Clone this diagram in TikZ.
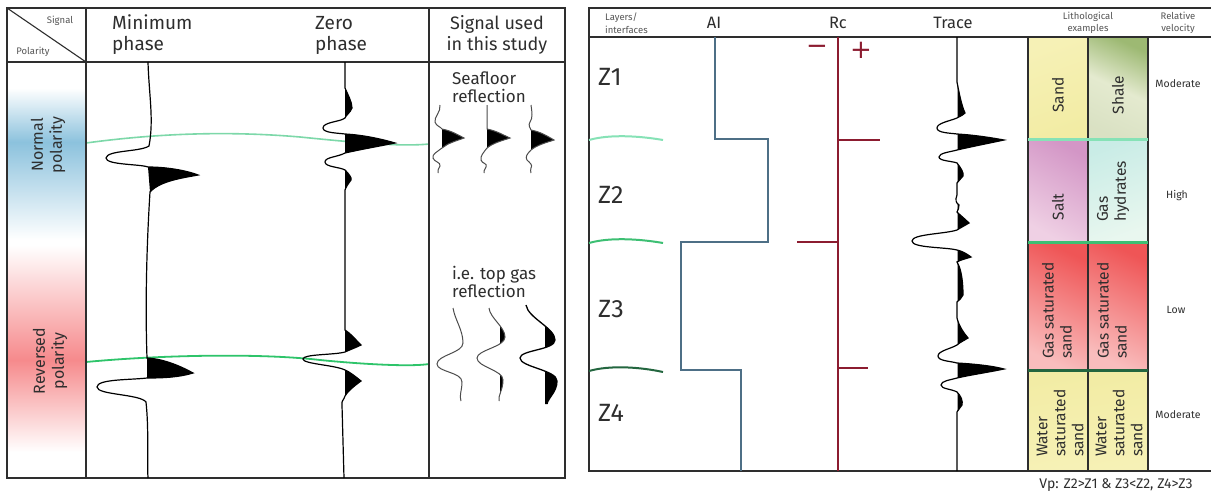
\documentclass[tikz,border=0pt]{standalone}
\usepackage{fontspec}
\setmainfont{Fira Sans}
\newfontfamily\signfont{DejaVu Sans}
\definecolor{ink}{HTML}{2E2E2E}
\definecolor{soft}{HTML}{555555}
\definecolor{polblue}{RGB}{140,194,221}
\definecolor{polred}{RGB}{246,138,140}
\definecolor{seagreen}{HTML}{7DD8A9}
\definecolor{gasgreen}{HTML}{2EC46A}
\definecolor{ifaceA}{HTML}{86E2B6}
\definecolor{ifaceB}{HTML}{3DBF73}
\definecolor{ifaceC}{HTML}{23663F}
\definecolor{aiblue}{HTML}{4D6F86}
\definecolor{rcred}{HTML}{8C1C30}
\definecolor{sandY}{HTML}{F6F1B6}
\definecolor{sandY2}{HTML}{F2ECA4}
\definecolor{shaleG}{HTML}{9DB973}
\definecolor{shaleL}{HTML}{E4EACF}
\definecolor{saltP}{HTML}{D396C6}
\definecolor{saltL}{HTML}{EFD0E4}
\definecolor{hydC}{HTML}{C9ECE6}
\definecolor{hydL}{HTML}{E9F7EF}
\definecolor{gasR}{HTML}{EF5556}
\definecolor{gasL}{HTML}{F9BDBD}

% right-panel trace, used for both the line and the variable-area fill
\newcommand{\tracecurve}{(957,37) -- (957,82)
  .. controls (959,92) and (961,104) .. (965,113) .. controls (962,116) and (958,117) .. (957,118)
  .. controls (950,121) and (937,123) .. (937,128) .. controls (937,133) and (950,133) .. (957,134)
  .. controls (975,135) and (993,138) .. (1004,140) .. controls (990,143) and (970,147) .. (957,150)
  .. controls (950,152) and (939,153) .. (939,157) .. controls (939,161) and (952,161) .. (957,163)
  .. controls (961,168) and (964,173) .. (963,176) .. controls (961,179) and (958,181) .. (957,183)
  -- (957,195) .. controls (955,200) and (956,203) .. (959,205) .. controls (960,208) and (957,210) .. (957,212)
  .. controls (960,215) and (965,219) .. (969,223) .. controls (964,226) and (960,228) .. (957,230)
  .. controls (945,234) and (912,234) .. (912,241) .. controls (912,248) and (945,247) .. (957,250)
  .. controls (962,251) and (967,254) .. (971,257) .. controls (965,259) and (960,260) .. (957,262)
  .. controls (962,270) and (963,285) .. (963,295) .. controls (962,298) and (959,300) .. (957,302)
  -- (957,318) .. controls (959,326) and (963,332) .. (968,338) .. controls (963,341) and (959,343) .. (957,345)
  .. controls (950,349) and (938,351) .. (938,356) .. controls (938,361) and (950,361) .. (957,363)
  .. controls (975,364) and (993,366) .. (1004,369) .. controls (990,372) and (970,375) .. (957,378)
  .. controls (950,380) and (941,381) .. (941,385) .. controls (941,389) and (952,389) .. (957,392)
  .. controls (961,396) and (963,401) .. (962,405) .. controls (960,408) and (958,410) .. (957,412)
  -- (957,471)}

% small "top gas" wavelets
\newcommand{\gasA}{(453,308) .. controls (455,320) and (463,330) .. (463,343) .. controls (463,353) and (437,355) .. (437,364) .. controls (437,372) and (462,372) .. (462,382) .. controls (462,390) and (459,396) .. (461,401)}
\newcommand{\gasB}{(489,308) .. controls (490,318) and (505,327) .. (505,337) .. controls (505,347) and (477,350) .. (477,358) .. controls (477,367) and (503,370) .. (503,380) .. controls (503,390) and (498,395) .. (499,401)}
\newcommand{\gasC}{(526,305) .. controls (528,318) and (555,328) .. (555,340) .. controls (555,350) and (520,350) .. (520,358) .. controls (520,367) and (557,370) .. (557,381) .. controls (557,392) and (548,398) .. (547,404)}

\begin{document}
\begin{tikzpicture}[x=1pt,y=-1pt,
  frame/.style={draw=ink, line width=1.1pt},
  trc/.style={draw=black, line width=1.2pt},
  wig/.style={draw=black!70, line width=1pt},
  txt/.style={text=ink, inner sep=0pt},
  hdr/.style={txt, font=\fontsize{19}{21}\selectfont, align=left},
  tiny/.style={text=soft, inner sep=0pt, font=\fontsize{9.5}{12.5}\selectfont, align=center},
  pol/.style={txt, rotate=90, align=center, font=\fontsize{16}{19}\selectfont},
  sig/.style={txt, align=left, anchor=west, font=\fontsize{17}{18}\selectfont},
  colhdr/.style={txt, font=\fontsize{16.5}{18}\selectfont},
  zone/.style={txt, anchor=west, font=\fontsize{25}{28}\selectfont},
  litho/.style={txt, rotate=90, align=left, font=\fontsize{15.5}{18}\selectfont},
  vel/.style={txt, font=\fontsize{10.5}{13}\selectfont},
  sign/.style={text=rcred, inner sep=0pt, font=\signfont\fontsize{26}{26}\selectfont},
  interface/.style={line width=2pt},
  sep/.style={line width=3pt}
]
\useasboundingbox (0,0) rectangle (1211,493);
\fill[white] (0,0) rectangle (1211,493);

%% ---------------- left panel: polarity vs phase ----------------
% polarity colour bands
\shade[top color=white, bottom color=polblue] (7,88) rectangle (86,142);
\shade[top color=polblue, bottom color=white] (7,142) rectangle (86,240);
\shade[top color=white, bottom color=polred] (7,245) rectangle (86,360);
\shade[top color=polred, bottom color=white] (7,360) rectangle (86,452);

% reflections
\draw[seagreen, line width=1.6pt] (86,143) .. controls (160,133) and (230,131) .. (300,137) .. controls (350,142) and (400,147) .. (429,144);
\draw[gasgreen, line width=1.8pt] (86,362) .. controls (160,355) and (260,353) .. (320,360) .. controls (360,364) and (410,367) .. (429,364);

% table frame
\draw[frame] (7,8) rectangle (565,478);
\draw[frame] (7,62) -- (565,62);
\draw[frame] (86,8) -- (86,478);
\draw[frame] (429,8) -- (429,478);
\draw[frame] (7,8) -- (86,62);

\node[tiny] (lblSignal) at (60,21) {Signal};
\node[tiny] (lblPolarity) at (33,52) {Polarity};
\node[hdr, anchor=west] (hMin) at (112,35) {Minimum\\phase};
\node[hdr, anchor=west] (hZero) at (315,35) {Zero\\phase};
\node[hdr, align=center, font=\fontsize{18}{21}\selectfont] (hUsed) at (497,35) {Signal used\\in this study};

\node[pol] (pNormal) at (48,145) {Normal\\polarity};
\node[pol] (pReversed) at (50,361) {Reversed\\polarity};

% minimum-phase trace
\fill (148,167) .. controls (165,167) and (185,170) .. (198,175) .. controls (182,178) and (160,181) .. (150,192) -- cycle;
\fill (147,358) .. controls (165,359) and (182,367) .. (193,373) .. controls (180,377) and (165,378) .. (147,378) -- cycle;
\draw[trc] (148,62) .. controls (149,95) and (154,120) .. (149,146)
  .. controls (140,152) and (107,150) .. (106,158)
  .. controls (106,165) and (140,164) .. (148,167)
  .. controls (165,167) and (185,170) .. (198,175) .. controls (182,178) and (160,181) .. (150,192)
  .. controls (147,240) and (145,300) .. (147,358)
  .. controls (165,359) and (182,367) .. (193,373) .. controls (180,377) and (165,378) .. (147,378)
  .. controls (130,380) and (97,379) .. (97,387) .. controls (97,395) and (140,394) .. (146,402)
  .. controls (149,430) and (147,460) .. (148,478);

% zero-phase trace
\fill (345,88) .. controls (348,95) and (352,102) .. (352,108) .. controls (350,113) and (346,115) .. (345,118) -- cycle;
\fill (345,134) .. controls (365,135) and (385,140) .. (395,143) .. controls (380,146) and (358,150) .. (345,153) -- cycle;
\fill (345,170) .. controls (349,174) and (352,178) .. (351,180) .. controls (348,184) and (346,187) .. (345,190) -- cycle;
\fill (345,330) .. controls (350,333) and (356,340) .. (361,345) .. controls (355,348) and (349,350) .. (345,352) -- cycle;
\fill (345,370) .. controls (350,372) and (356,377) .. (361,381) .. controls (354,386) and (347,392) .. (345,396) -- cycle;
\draw[trc] (345,62) -- (345,88)
  .. controls (348,95) and (352,102) .. (352,108) .. controls (350,113) and (346,115) .. (345,118)
  .. controls (340,122) and (323,122) .. (323,128) .. controls (323,133) and (338,133) .. (345,134)
  .. controls (365,135) and (385,140) .. (395,143) .. controls (380,146) and (358,150) .. (345,153)
  .. controls (338,157) and (325,157) .. (325,162) .. controls (325,167) and (340,167) .. (345,170)
  .. controls (349,174) and (352,178) .. (351,180) .. controls (348,184) and (346,187) .. (345,190)
  -- (345,330)
  .. controls (350,333) and (356,340) .. (361,345) .. controls (355,348) and (349,350) .. (345,352)
  .. controls (335,355) and (303,354) .. (303,359) .. controls (303,364) and (335,365) .. (345,370)
  .. controls (350,372) and (356,377) .. (361,381) .. controls (354,386) and (347,392) .. (345,396)
  .. controls (344,400) and (341,401) .. (342,405) -- (344,478);

% wavelets used in this study
\node[sig] (tSea) at (452,87) {Seafloor\\reflection};
\node[sig] (tGas) at (452,282) {i.e. top gas\\reflection};

\fill (442,129) .. controls (452,131) and (458,135) .. (464,138) .. controls (456,141) and (448,143) .. (442,148) -- cycle;
\draw[wig] (440,105) .. controls (441,112) and (434,117) .. (435,122) .. controls (436,126) and (441,127) .. (442,129)
  .. controls (452,131) and (458,135) .. (464,138) .. controls (456,141) and (448,143) .. (442,148)
  .. controls (437,152) and (432,154) .. (433,158) .. controls (434,162) and (441,162) .. (440,166)
  .. controls (439,169) and (437,170) .. (438,173);
\fill (487,129) .. controls (497,131) and (503,135) .. (510,138) .. controls (501,141) and (493,143) .. (487,148) -- cycle;
\draw[wig] (487,105) -- (487,129)
  .. controls (497,131) and (503,135) .. (510,138) .. controls (501,141) and (493,143) .. (487,148)
  .. controls (484,152) and (480,156) .. (481,160) .. controls (482,164) and (488,163) .. (486,167)
  .. controls (485,170) and (483,171) .. (484,173);
\fill (531,130) .. controls (541,132) and (547,136) .. (554,140) .. controls (545,143) and (537,145) .. (531,150) -- cycle;
\draw[wig] (531,105) .. controls (532,112) and (533,118) .. (530,122) .. controls (528,125) and (530,128) .. (531,130)
  .. controls (541,132) and (547,136) .. (554,140) .. controls (545,143) and (537,145) .. (531,150)
  .. controls (527,154) and (525,157) .. (527,160) .. controls (530,163) and (533,165) .. (531,168)
  .. controls (530,170) and (531,171) .. (531,173);

\draw[wig] \gasA;
\begin{scope}
  \clip (500,300) rectangle (520,410);
  \fill (480,308) -- \gasB -- (480,401) -- cycle;
\end{scope}
\draw[wig] \gasB;
\begin{scope}
  \clip (545,300) rectangle (565,410);
  \fill (520,305) -- \gasC -- (520,404) -- cycle;
\end{scope}
\draw[wig, draw=black, line width=1.3pt] \gasC;

%% ---------------- right panel: layered model ----------------
% lithology boxes
\shade[top color=sandY, bottom color=sandY2, shading angle=20] (1028,37) rectangle (1088,139);
\shade[top color=shaleG, bottom color=shaleG!80!black!10!shaleL, middle color=shaleL, shading angle=-25] (1088,37) rectangle (1148,139);
\shade[top color=saltP, bottom color=saltL, shading angle=-30] (1028,139) rectangle (1088,242);
\shade[top color=hydC, bottom color=hydL, shading angle=20] (1088,139) rectangle (1148,242);
\shade[top color=gasR, bottom color=gasL, shading angle=-25] (1028,242) rectangle (1088,370);
\shade[top color=gasR, bottom color=gasL, shading angle=-25] (1088,242) rectangle (1148,370);
\shade[top color=sandY2, bottom color=sandY, shading angle=10] (1028,370) rectangle (1088,471);
\shade[top color=sandY2, bottom color=sandY, shading angle=10] (1088,370) rectangle (1148,471);

\draw[frame] (1028,37) -- (1028,471);
\draw[frame] (1088,37) -- (1088,471);
\draw[frame] (1148,37) -- (1148,471);
\draw[sep, ifaceA] (1028,139) -- (1148,139);
\draw[sep, ifaceB] (1028,242) -- (1148,242);
\draw[sep, ifaceC] (1028,370) -- (1148,370);

% frame
\draw[frame] (1211,8) -- (589,8) -- (589,471) -- (1211,471);
\draw[frame] (589,37) -- (1211,37);

% headers
\node[tiny, align=left, anchor=west] (hLayers) at (605,23) {Layers/\\interfaces};
\node[colhdr] (hAI) at (714,23) {AI};
\node[colhdr] (hRc) at (838,23) {Rc};
\node[colhdr] (hTrace) at (953,23) {Trace};
\node[tiny] (hLitho) at (1088,23) {Lithological\\examples};
\node[tiny] (hVel) at (1178,23) {Relative\\velocity};

% zones and interfaces
\node[zone] (z1) at (598,77) {Z1};
\node[zone] (z2) at (598,195) {Z2};
\node[zone] (z3) at (598,309) {Z3};
\node[zone] (z4) at (598,413) {Z4};
\draw[interface, ifaceA] (589,140) .. controls (610,134) and (640,136) .. (663,140);
\draw[interface, ifaceB] (589,243) .. controls (610,237) and (640,239) .. (663,243);
\draw[interface, ifaceC] (589,371) .. controls (610,365) and (640,367) .. (663,372);

% acoustic impedance
\draw[aiblue, line width=1.3pt] (715,37) -- (715,139) -- (768,139) -- (768,242) -- (681,242) -- (681,370) -- (741,370) -- (741,471);

% reflection coefficients
\draw[rcred, line width=1.7pt] (838,37) -- (838,471);
\draw[rcred, line width=1.7pt] (838,140) -- (880,140);
\draw[rcred, line width=1.7pt] (797,242) -- (838,242);
\draw[rcred, line width=1.7pt] (838,368) -- (868,368);
\node[sign] (minus) at (817,50) {−};
\node[sign] (plus) at (861,50) {+};

% seismic trace
\begin{scope}
  \clip (957.6,30) rectangle (1020,480);
  \fill (940,37) -- \tracecurve -- (940,471) -- cycle;
\end{scope}
\draw[trc] \tracecurve;

% lithology labels
\node[litho] (lSand) at (1058,95) {Sand};
\node[litho] (lShale) at (1118,95) {Shale};
\node[litho] (lSalt) at (1058,207) {Salt};
\node[litho, anchor=west] (lHyd) at (1113,222) {Gas\\hydrates};
\node[litho, anchor=west] (lGasA) at (1057,359) {Gas saturated\\sand};
\node[litho, anchor=west] (lGasB) at (1112,359) {Gas saturated\\sand};
\node[litho, anchor=west] (lWatA) at (1060,457) {Water\\saturated\\sand};
\node[litho, anchor=west] (lWatB) at (1119,457) {Water\\saturated\\sand};

% relative velocity
\node[vel] (v1) at (1178,84) {Moderate};
\node[vel] (v2) at (1177,196) {High};
\node[vel] (v3) at (1176,310) {Low};
\node[vel] (v4) at (1178,415) {Moderate};

\node[txt, font=\fontsize{14}{16}\selectfont] (vp) at (1116,485) {Vp: Z2>Z1 \& Z3<Z2, Z4>Z3};
\end{tikzpicture}
\end{document}
